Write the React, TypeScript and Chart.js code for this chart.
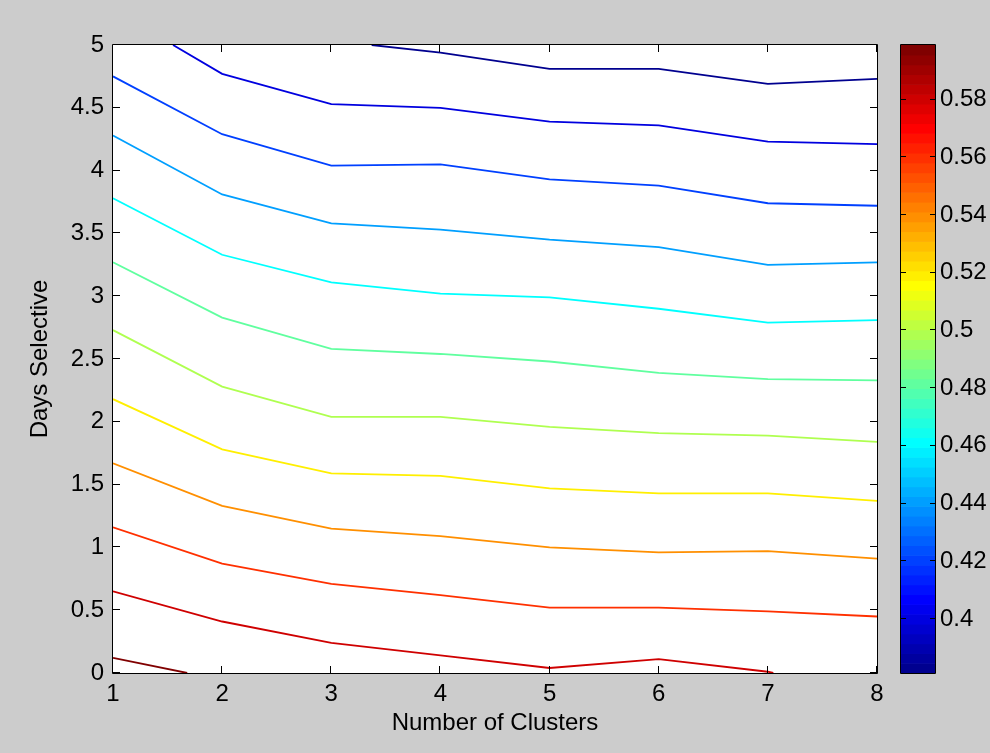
import React, { useEffect, useRef } from "react";
import { Chart, registerables } from "chart.js";
Chart.register(...registerables);

// ---- data ----
const X_TICKS = [1, 2, 3, 4, 5, 6, 7, 8];
const Y_TICKS = [0, 0.5, 1, 1.5, 2, 2.5, 3, 3.5, 4, 4.5, 5];
const CB_TICKS = [0.4, 0.42, 0.44, 0.46, 0.48, 0.5, 0.52, 0.54, 0.56, 0.58];
const C_MIN = 0.3813;
const C_MAX = 0.5989;

// contour level values (low -> high)
const LEVELS = [0.3813, 0.4011, 0.4209, 0.4407, 0.4604, 0.4802, 0.5, 0.5198, 0.5396, 0.5594, 0.5791, 0.5989];

// contour lines, same order as LEVELS: [x, y]
const LINE_L = [[3.37, 5], [4, 4.94], [5, 4.81], [6, 4.81], [7, 4.69], [8, 4.73]];
const LINE_K = [[1.55, 5], [2, 4.77], [3, 4.53], [4, 4.5], [5, 4.39], [6, 4.36], [7, 4.23], [8, 4.21]];
const LINE_J = [[1, 4.75], [2, 4.29], [3, 4.04], [4, 4.05], [5, 3.93], [6, 3.88], [7, 3.74], [8, 3.72]];
const LINE_I = [[1, 4.28], [2, 3.81], [3, 3.58], [4, 3.53], [5, 3.45], [6, 3.39], [7, 3.25], [8, 3.27]];
const LINE_H = [[1, 3.78], [2, 3.33], [3, 3.11], [4, 3.02], [5, 2.99], [6, 2.9], [7, 2.79], [8, 2.81]];
const LINE_G = [[1, 3.27], [2, 2.83], [3, 2.58], [4, 2.54], [5, 2.48], [6, 2.39], [7, 2.34], [8, 2.33]];
const LINE_F = [[1, 2.73], [2, 2.28], [3, 2.04], [4, 2.04], [5, 1.96], [6, 1.91], [7, 1.89], [8, 1.84]];
const LINE_E = [[1, 2.18], [2, 1.78], [3, 1.59], [4, 1.57], [5, 1.47], [6, 1.43], [7, 1.43], [8, 1.37]];
const LINE_D = [[1, 1.67], [2, 1.33], [3, 1.15], [4, 1.09], [5, 1.0], [6, 0.96], [7, 0.97], [8, 0.91]];
const LINE_C = [[1, 1.16], [2, 0.87], [3, 0.71], [4, 0.62], [5, 0.52], [6, 0.52], [7, 0.49], [8, 0.45]];
const LINE_B = [[1, 0.65], [2, 0.41], [3, 0.24], [4, 0.14], [5, 0.04], [6, 0.11], [7, 0.01], [7.05, 0]];
const LINE_A = [[1, 0.12], [1.68, 0]];

const LINES = [LINE_L, LINE_K, LINE_J, LINE_I, LINE_H, LINE_G, LINE_F, LINE_E, LINE_D, LINE_C, LINE_B, LINE_A];

// MATLAB jet(64)
function jet64(): number[][] {
  const n = 16;
  const u: number[] = [];
  for (let i = 1; i <= 16; i++) u.push(i / 16);
  for (let i = 0; i < 15; i++) u.push(1);
  for (let i = 16; i >= 1; i--) u.push(i / 16);
  const J = Array.from({ length: 64 }, () => [0, 0, 0]);
  for (let k = 0; k < u.length; k++) {
    const g = 8 + k + 1;
    const r = g + n;
    const b = g - n;
    if (g >= 1 && g <= 64) J[g - 1][1] = u[k];
    if (r <= 64) J[r - 1][0] = u[k];
    if (b >= 1) J[b - 1][2] = u[k];
  }
  return J;
}
const JET = jet64();
const rgb = (c: number[]) => `rgb(${Math.round(c[0] * 255)},${Math.round(c[1] * 255)},${Math.round(c[2] * 255)})`;
const levelColor = (v: number) => {
  const idx = Math.max(0, Math.min(63, Math.floor(((v - C_MIN) / (C_MAX - C_MIN)) * 64 + 1e-9)));
  return rgb(JET[idx]);
};

const FONT = "'Liberation Sans', Arial, Helvetica, sans-serif";

const framePlugin = {
  id: "matlabFrame",
  beforeDraw(chart: any) {
    const { ctx, chartArea: a } = chart;
    ctx.save();
    ctx.fillStyle = "#cccccc";
    ctx.fillRect(0, 0, chart.width, chart.height);
    ctx.fillStyle = "#ffffff";
    ctx.fillRect(a.left, a.top, a.right - a.left, a.bottom - a.top);
    ctx.restore();
  },
  afterDraw(chart: any) {
    const { ctx, chartArea: a, scales } = chart;
    const tl = 7;
    ctx.save();
    ctx.strokeStyle = "#000";
    ctx.lineWidth = 1;
    ctx.beginPath();
    ctx.rect(Math.round(a.left) - 0.5, Math.round(a.top) - 0.5, Math.round(a.right - a.left) + 1, Math.round(a.bottom - a.top) + 1);
    ctx.stroke();
    ctx.beginPath();
    for (const v of X_TICKS) {
      const px = Math.round(scales.x.getPixelForValue(v)) - 0.5;
      ctx.moveTo(px, a.bottom);
      ctx.lineTo(px, a.bottom - tl);
      ctx.moveTo(px, a.top);
      ctx.lineTo(px, a.top + tl);
    }
    for (const v of Y_TICKS) {
      const py = Math.round(scales.y.getPixelForValue(v)) - 0.5;
      ctx.moveTo(a.left, py);
      ctx.lineTo(a.left + tl, py);
      ctx.moveTo(a.right, py);
      ctx.lineTo(a.right - tl, py);
    }
    ctx.stroke();

    // colorbar
    const cb = scales.cb;
    const x0 = Math.round(a.right) + 24;
    const x1 = Math.round(a.right) + 58;
    for (let i = 0; i < 64; i++) {
      const v0 = C_MIN + (i * (C_MAX - C_MIN)) / 64;
      const v1 = C_MIN + ((i + 1) * (C_MAX - C_MIN)) / 64;
      const yA = cb.getPixelForValue(v0);
      const yB = cb.getPixelForValue(v1);
      ctx.fillStyle = rgb(JET[i]);
      ctx.fillRect(x0, yB, x1 - x0, yA - yB + 0.6);
    }
    ctx.beginPath();
    ctx.rect(x0 - 0.5, Math.round(a.top) - 0.5, x1 - x0 + 1, Math.round(a.bottom - a.top) + 1);
    for (const v of CB_TICKS) {
      const py = Math.round(cb.getPixelForValue(v)) - 0.5;
      ctx.moveTo(x0, py);
      ctx.lineTo(x0 + 5, py);
      ctx.moveTo(x1, py);
      ctx.lineTo(x1 - 5, py);
    }
    ctx.stroke();
    ctx.restore();
  },
};

export default function App() {
  const ref = useRef<HTMLCanvasElement | null>(null);
  useEffect(() => {
    if (!ref.current) return;
    const tickFont = { family: FONT, size: 24 };
    const chart = new Chart(ref.current, {
      type: "scatter",
      data: {
        datasets: LINES.map((pts, i) => ({
          label: "level " + LEVELS[i],
          data: pts.map(([x, y]) => ({ x, y })),
          showLine: true,
          borderColor: levelColor(LEVELS[i]),
          backgroundColor: levelColor(LEVELS[i]),
          borderWidth: 1.8,
          pointRadius: 0,
          pointHoverRadius: 0,
          tension: 0,
        })),
      },
      options: {
        animation: false,
        responsive: false,
        events: [],
        layout: { padding: { top: 45, left: 0, right: 0, bottom: 0 } },
        plugins: { legend: { display: false }, tooltip: { enabled: false } },
        scales: {
          x: {
            type: "linear",
            position: "bottom",
            min: 1,
            max: 8,
            afterBuildTicks: (s: any) => { s.ticks = X_TICKS.map((v) => ({ value: v })); },
            afterFit: (s: any) => { s.height = 80; s.paddingLeft = 0; s.paddingRight = 0; },
            grid: { display: false, drawTicks: false },
            border: { display: false },
            ticks: { padding: 7, color: "#000", font: tickFont, maxRotation: 0, autoSkip: false, callback: (v: any) => String(v) },
            title: { display: true, text: "Number of Clusters", color: "#000", font: tickFont, padding: { top: 0, bottom: 15 } },
          },
          y: {
            type: "linear",
            position: "left",
            min: 0,
            max: 5,
            afterBuildTicks: (s: any) => { s.ticks = Y_TICKS.map((v) => ({ value: v })); },
            afterFit: (s: any) => { s.width = 113; s.paddingTop = 0; s.paddingBottom = 0; },
            grid: { display: false, drawTicks: false },
            border: { display: false },
            ticks: { padding: 9, color: "#000", font: tickFont, autoSkip: false, callback: (v: any) => String(v) },
            title: { display: true, text: "Days Selective", color: "#000", font: tickFont, padding: { top: 26, bottom: 0 } },
          },
          cb: {
            type: "linear",
            axis: "y",
            position: "right",
            min: C_MIN,
            max: C_MAX,
            afterBuildTicks: (s: any) => { s.ticks = CB_TICKS.map((v) => ({ value: v })); },
            afterFit: (s: any) => { s.width = 113; s.paddingTop = 0; s.paddingBottom = 0; },
            grid: { display: false, drawTicks: false },
            border: { display: false },
            ticks: { padding: 63, color: "#000", font: tickFont, autoSkip: false, callback: (v: any) => String(v) },
          },
        },
      } as any,
      plugins: [framePlugin],
    });
    return () => chart.destroy();
  }, []);
  return (
    <div style={{ position: "absolute", left: 0, top: 0, width: 990, height: 753, background: "#cccccc" }}>
      <canvas ref={ref} width={990} height={753} style={{ display: "block" }} />
    </div>
  );
}
